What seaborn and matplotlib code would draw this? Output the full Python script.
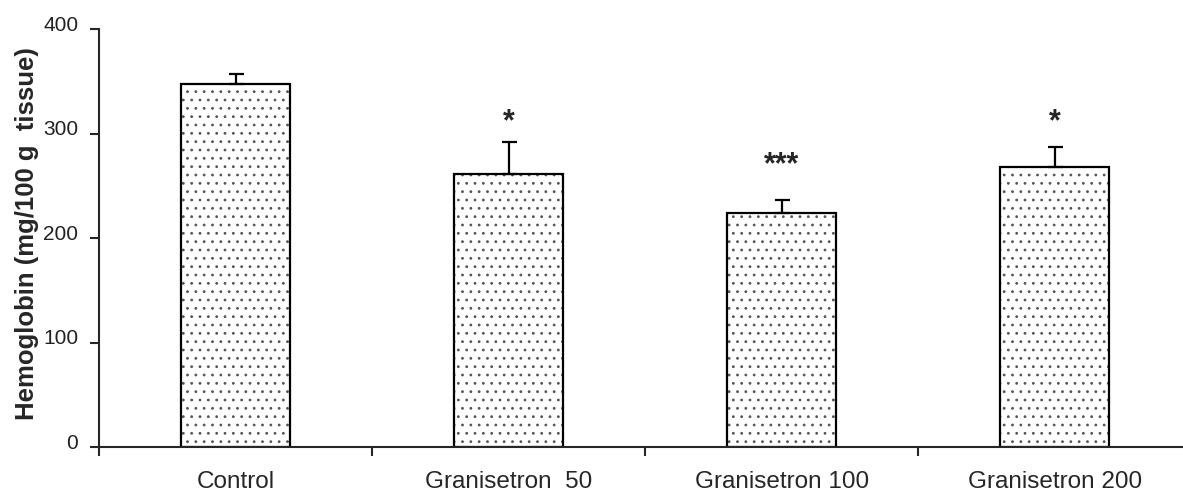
import numpy as np
import pandas as pd
import matplotlib
matplotlib.use('Agg')
import matplotlib.pyplot as plt
import seaborn as sns
from matplotlib.transforms import ScaledTranslation

groups = ['Control', 'Granisetron  50', 'Granisetron 100', 'Granisetron 200']
means = [347, 261, 224, 268]
sems = [10, 31, 12, 19]
stars = ['', '*', '***', '*']
star_y = [0, 303, 262, 303]

sns.set_style('ticks')
plt.rcParams['font.family'] = ['Liberation Sans', 'DejaVu Sans']
plt.rcParams['hatch.linewidth'] = 0.8

df = pd.DataFrame({'group': groups, 'value': means})

fig = plt.figure(figsize=(11.83, 4.92), dpi=100)
ax = fig.add_axes([99 / 1183, 45 / 492, 1084 / 1183, 418 / 492])

# hatched fill first, black outline on top
sns.barplot(data=df, x='group', y='value', ax=ax, width=0.4, color='white',
            edgecolor='#555555', linewidth=0, hatch='..', errorbar=None)
sns.barplot(data=df, x='group', y='value', ax=ax, width=0.4, fill=False,
            edgecolor='black', linewidth=1.6, errorbar=None)
ax.errorbar(x=np.arange(len(groups)), y=means, yerr=[np.zeros(len(sems)), sems],
            fmt='none', ecolor='black', elinewidth=1.6, capsize=5.4, capthick=1.6)

for i, s in enumerate(stars):
    if s:
        ax.text(i, star_y[i], s, ha='center', va='baseline', fontsize=22,
                fontweight='bold')

ax.set_xlim(-0.5, 3.47)
ax.set_ylim(0, 400)
ax.set_yticks([0, 100, 200, 300, 400])
ax.set_xticks(range(len(groups)))
ax.set_xticklabels(groups)
ax.set_xticks([-0.5, 0.5, 1.5, 2.5], minor=True)
ax.tick_params(axis='x', which='major', length=0, pad=17, labelsize=17.5)
ax.tick_params(axis='x', which='minor', length=6.5, width=1.5, direction='out')
ax.tick_params(axis='y', length=6.5, width=1.5, pad=8.5, labelsize=15,
               direction='out')
for lab in ax.get_yticklabels():
    lab.set_transform(lab.get_transform() + ScaledTranslation(0, 4 / 72, fig.dpi_scale_trans))
    lab.set_color('#222222')

sns.despine(ax=ax)
for sp in ['left', 'bottom']:
    ax.spines[sp].set_linewidth(1.5)
ax.set_xlabel('')
ax.set_ylabel('Hemoglobin (mg/100 g  tissue)', fontsize=18.5, fontweight='bold')
ax.yaxis.set_label_coords(-0.055, 0.51)

fig.savefig('out.png', dpi=100)
